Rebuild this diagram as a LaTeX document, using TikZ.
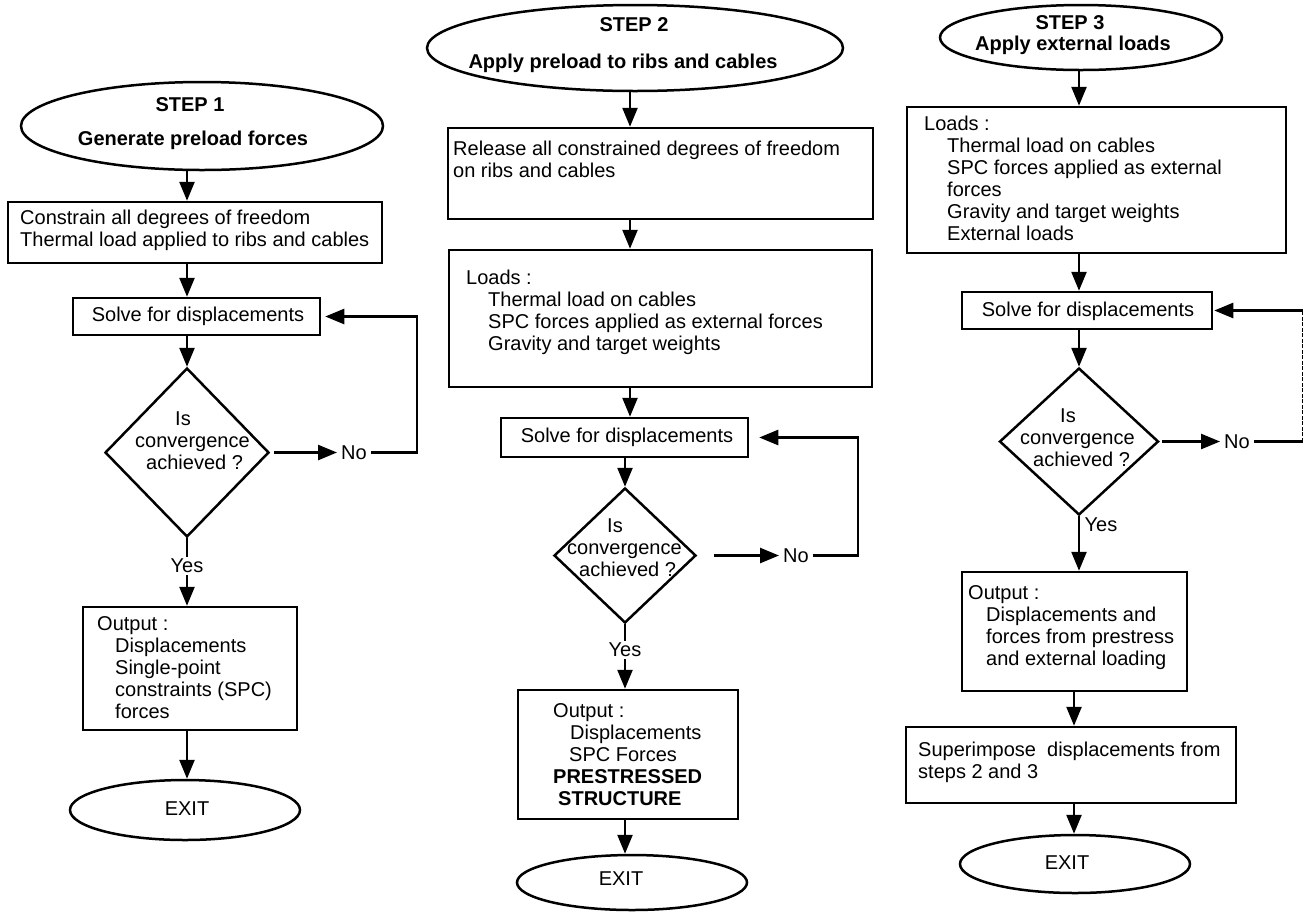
\documentclass[tikz,border=0pt]{standalone}
\usepackage{fontspec}
\setmainfont{Liberation Sans}
\usetikzlibrary{shapes.geometric,arrows.meta}
\begin{document}
\begin{tikzpicture}[x=1pt,y=-1pt,
  every node/.style={font=\fontsize{20}{22}\selectfont},
  box/.style={draw, line width=2.5pt, inner sep=0pt, rectangle},
  oval/.style={draw, line width=2.5pt, ellipse, inner sep=0pt},
  dia/.style={draw, line width=2.5pt, diamond, inner sep=0pt},
  txt/.style={inner sep=0pt, align=left, anchor=west},
  hd/.style={inner sep=0pt, font=\fontsize{20}{22}\selectfont\bfseries},
  lbl/.style={inner sep=4pt},
  ln/.style={line width=2.5pt},
  arr/.style={line width=2.5pt, -{Triangle[length=19pt,width=15pt]}},
]
\useasboundingbox (0,0) rectangle (1305,914);

% ---------------- Column 1 ----------------
\node[oval, minimum width=362pt, minimum height=88pt] (e1) at (202,126) {};
\node[hd] (e1a) at (190,105) {STEP 1};
\node[hd] (e1b) at (193,140) {Generate preload forces};
\node[box, minimum width=374pt, minimum height=61pt] (b1) at (195,232.5) {};
\node[txt] (b1t) at (20,230) {Constrain all degrees of freedom\\Thermal load applied to ribs and cables};
\node[box, minimum width=247pt, minimum height=37pt] (s1) at (196.5,316.5) {};
\node[inner sep=0pt] (s1t) at (198,316) {Solve for displacements};
\node[dia, minimum width=164pt, minimum height=169pt] (d1) at (187,452.5) {};
\node[txt] (d1t) at (135,441) {\hspace*{40pt}Is\\convergence\\\hspace*{11pt}achieved ?};
\node[lbl] (no1) at (354,452.5) {No};
\coordinate (c1) at (417,316.5);
\node[lbl, inner sep=2pt] (yes1) at (187,566) {Yes};
\node[box, minimum width=214pt, minimum height=123pt] (o1) at (190,668.5) {};
\node[txt] (o1t) at (97,667.5) {Output :\\\hspace*{18pt}Displacements\\\hspace*{18pt}Single-point\\\hspace*{18pt}constraints (SPC)\\\hspace*{18pt}forces};
\node[oval, minimum width=230pt, minimum height=60pt] (x1) at (185,810) {};
\node[inner sep=0pt] (x1t) at (187,809) {EXIT};

\coordinate (ax1) at (187,0);
\draw[arr] (e1.south -| ax1) -- (b1.north -| ax1);
\draw[arr] (b1.south -| ax1) -- (s1.north -| ax1);
\draw[arr] (s1.south -| ax1) -- (d1.north);
\draw[arr, shorten <=4pt] (d1.east) -- (no1.west);
\draw[arr, shorten >=4pt] (no1.east) -| (c1) -- (s1.east);
\draw[ln] (d1.south) -- (yes1.north);
\draw[arr] (yes1.south) -- (yes1.south |- o1.north);
\draw[arr] (o1.south -| ax1) -- (x1.north -| ax1);

% ---------------- Column 2 ----------------
\node[oval, minimum width=416pt, minimum height=86pt] (e2) at (635,48) {};
\node[hd] (e2a) at (634,25) {STEP 2};
\node[hd] (e2b) at (623,63) {Apply preload to ribs and cables};
\node[box, minimum width=425pt, minimum height=91pt] (b2) at (660.5,173.5) {};
\node[txt] (b2t) at (453,159.5) {Release all constrained degrees of freedom\\on ribs and cables};
\node[box, minimum width=423pt, minimum height=137pt] (l2) at (660.5,318.5) {};
\node[txt] (l2t) at (466,312.5) {Loads :\\\hspace*{22pt}Thermal load on cables\\\hspace*{22pt}SPC forces applied as external forces\\\hspace*{22pt}Gravity and target weights};
\node[box, minimum width=247pt, minimum height=39pt] (s2) at (624.5,437.5) {};
\node[inner sep=0pt] (s2t) at (627,437) {Solve for displacements};
\node[dia, minimum width=142pt, minimum height=135pt] (d2) at (625,555.5) {};
\node[txt] (d2t) at (567,548) {\hspace*{40pt}Is\\convergence\\\hspace*{12pt}achieved ?};
\node[lbl] (no2) at (796,555.5) {No};
\coordinate (c2) at (858,437.5);
\node[lbl, inner sep=2pt] (yes2) at (625,650) {Yes};
\node[box, minimum width=220pt, minimum height=129pt] (o2) at (628,754.5) {};
\node[txt] (o2t) at (553,755) {Output :\\\hspace*{17pt}Displacements\\\hspace*{16pt}SPC Forces\\\textbf{PRESTRESSED}\\\hspace*{5pt}\textbf{STRUCTURE}};
\node[oval, minimum width=230pt, minimum height=55pt] (x2) at (632,882.5) {};
\node[inner sep=0pt] (x2t) at (621,879) {EXIT};

\coordinate (ax2) at (630,0);
\draw[arr] (e2.south -| ax2) -- (b2.north -| ax2);
\draw[arr] (b2.south -| ax2) -- (l2.north -| ax2);
\draw[arr] (l2.south -| ax2) -- (s2.north -| ax2);
\draw[arr] (s2.south -| d2) -- (d2.north);
\draw[arr, shorten <=17pt] (d2.east) -- (no2.west);
\draw[arr, shorten >=10pt] (no2.east) -| (c2) -- (s2.east);
\draw[ln] (d2.south) -- (yes2.north);
\draw[arr] (yes2.south) -- (yes2.south |- o2.north);
\draw[arr] (o2.south -| d2) -- (x2.north -| d2);

% ---------------- Column 3 ----------------
\node[oval, minimum width=282pt, minimum height=65pt] (e3) at (1081,37.5) {};
\node[hd] (e3a) at (1070,23) {STEP 3};
\node[hd] (e3b) at (1073,45) {Apply external loads};
\node[box, minimum width=379pt, minimum height=146pt] (l3) at (1096.5,180) {};
\node[txt] (l3t) at (924,178.5) {Loads :\\\hspace*{23pt}Thermal load on cables\\\hspace*{23pt}SPC forces applied as external\\\hspace*{23pt}forces\\\hspace*{23pt}Gravity and target weights\\\hspace*{23pt}External loads};
\node[box, minimum width=250pt, minimum height=37pt] (s3) at (1087,310.5) {};
\node[inner sep=0pt] (s3t) at (1088,311) {Solve for displacements};
\node[dia, minimum width=159pt, minimum height=147pt] (d3) at (1079,441.5) {};
\node[txt] (d3t) at (1020,438) {\hspace*{40pt}Is\\convergence\\\hspace*{13pt}achieved ?};
\node[lbl] (no3) at (1237,441.5) {No};
\coordinate (c3) at (1302.5,310.5);
\node[inner sep=0pt] (yes3) at (1101,525) {Yes};
\node[box, minimum width=225pt, minimum height=119pt] (o3) at (1074.5,631.5) {};
\node[txt] (o3t) at (968,628) {Output :\\\hspace*{18pt}Displacements and\\\hspace*{18pt}forces from prestress\\\hspace*{18pt}and external loading};
\node[box, minimum width=330pt, minimum height=76pt] (sp3) at (1071,765) {};
\node[txt] (sp3t) at (918,762) {Superimpose\ \ displacements from\\steps 2 and 3};
\node[oval, minimum width=230pt, minimum height=58pt] (x3) at (1075,864) {};
\node[inner sep=0pt] (x3t) at (1067,863) {EXIT};

\coordinate (ax3) at (1079,0);
\coordinate (ax3b) at (1074,0);
\draw[arr] (e3.south -| ax3) -- (l3.north -| ax3);
\draw[arr] (l3.south -| ax3) -- (s3.north -| ax3);
\draw[arr] (s3.south -| ax3) -- (d3.north);
\draw[arr, shorten <=2pt] (d3.east) -- (no3.west);
\draw[ln] (no3.east) -- (no3.east -| c3);
\draw[line width=1.2pt, dash pattern=on 4pt off 1.5pt] (no3.east -| c3) -- (c3);
\draw[arr, shorten >=1pt] (c3) -- (s3.east);
\draw[arr] (d3.south) -- (d3.south |- o3.north);
\draw[arr] (o3.south -| ax3b) -- (sp3.north -| ax3b);
\draw[arr] (sp3.south -| ax3b) -- (x3.north -| ax3b);
\end{tikzpicture}
\end{document}
